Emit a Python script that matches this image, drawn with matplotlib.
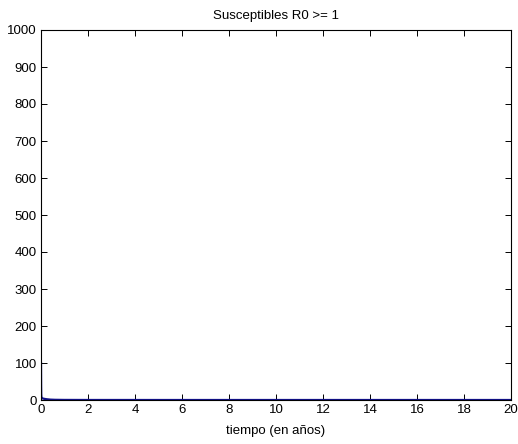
import matplotlib
matplotlib.use("Agg")
import matplotlib.pyplot as plt

t = [0, 0.005, 0.01, 0.02, 0.04, 0.08, 0.15, 0.25, 0.4, 0.6, 1, 2, 5, 10, 15, 20]
S = [100, 40, 15, 7, 5, 4, 3, 2, 1, 0.5, 0.2, 0.05, 0, 0, 0, 0]
xticks = list(range(0, 21, 2))
yticks = list(range(0, 1001, 100))

plt.rcParams['font.family'] = ['Liberation Sans', 'DejaVu Sans']
fig = plt.figure(figsize=(5.18, 4.44), dpi=100)
ax = fig.add_axes([41/518, 1-400/444, 470/518, 370/444])
ax.plot(t, S, color='#10108a', linewidth=1.6)
ax.set_xlim(0, 20)
ax.set_ylim(0, 1000)
ax.set_xticks(xticks)
ax.set_yticks(yticks)
ax.tick_params(direction='in', top=True, right=True, labelsize=9.5, length=4, width=0.7, pad=3)
for s in ax.spines.values():
    s.set_linewidth(0.8)
ax.set_title('Susceptibles R0 >= 1', fontsize=9.5, pad=8)
ax.set_xlabel('tiempo (en años)', fontsize=9.5, labelpad=6)
fig.savefig('out.png', dpi=100)
